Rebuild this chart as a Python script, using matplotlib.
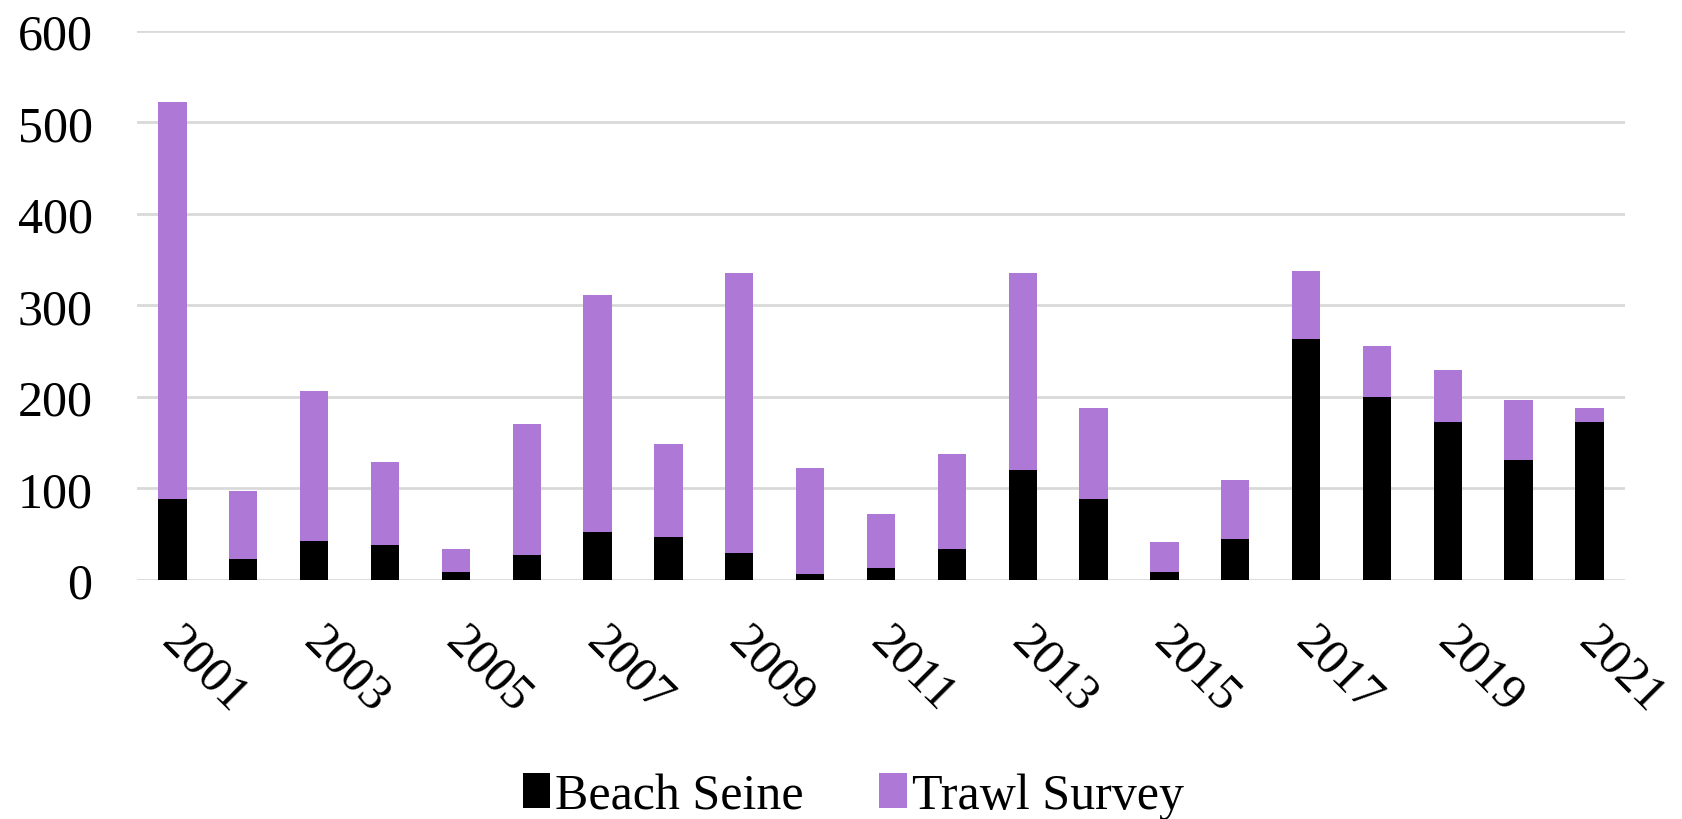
import numpy as np
import matplotlib
matplotlib.use("Agg")
import matplotlib.pyplot as plt
from matplotlib.transforms import ScaledTranslation

# values
years = list(range(2001, 2022))
total = [522, 97, 206, 129, 34, 170, 311, 149, 336, 122, 72,
         138, 336, 188, 42, 109, 338, 256, 229, 197, 188]
beach_seine = [88, 23, 43, 38, 9, 27, 52, 47, 29, 6, 13,
               34, 120, 88, 9, 45, 263, 200, 173, 131, 173]
trawl_survey = [t - b for t, b in zip(total, beach_seine)]

plt.rcParams['font.family'] = ['Liberation Serif', 'DejaVu Serif']

fig = plt.figure(figsize=(16.83, 8.2), dpi=100)
ax = fig.add_axes([0.0814, 0.2915, 0.8841, 0.6695])

x = np.arange(len(years))
ax.bar(x, beach_seine, width=0.4, color='black', label='Beach Seine', zorder=3)
ax.bar(x, trawl_survey, width=0.4, bottom=beach_seine, color='#AE78D6',
       label='Trawl Survey', zorder=3)

ax.set_xlim(-0.5, len(years) - 0.5)
ax.set_ylim(0, 600)
ax.set_yticks(np.arange(0, 601, 100))
ax.yaxis.grid(True, color='#D9D9D9', linewidth=2.0, zorder=0)
ax.set_axisbelow(True)
for s in ax.spines.values():
    s.set_visible(False)

ax.set_xticks(x[::2])
ax.set_xticklabels([str(y) for y in years[::2]], rotation=-45,
                   ha='left', va='top', rotation_mode='anchor')
ax.tick_params(axis='x', length=0, pad=27, labelsize=36)
ax.tick_params(axis='y', length=0, pad=32, labelsize=36)
# nudge rotated year labels a little to the right
shift = ScaledTranslation(13 / 100, 0, fig.dpi_scale_trans)
for lbl in ax.get_xticklabels():
    lbl.set_transform(lbl.get_transform() + shift)

fig.legend(loc='lower center', bbox_to_anchor=(0.507, -0.055), ncol=2,
           frameon=False, fontsize=36, handlelength=0.55, handleheight=0.7,
           handletextpad=0.1, columnspacing=1.5)

fig.savefig('out.png', dpi=100)
